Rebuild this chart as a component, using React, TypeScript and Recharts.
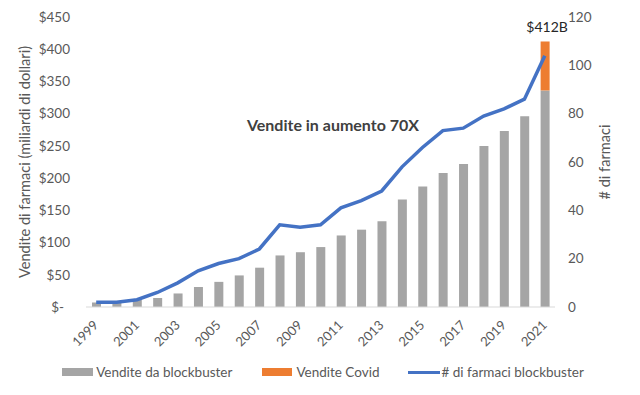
import {
  ComposedChart,
  Bar,
  Line,
  XAxis,
  YAxis,
  Legend,
  Label,
  LabelList,
} from "recharts"

// years on the category axis
const years = [
  "1999", "2000", "2001", "2002", "2003", "2004", "2005", "2006", "2007", "2008", "2009", "2010",
  "2011", "2012", "2013", "2014", "2015", "2016", "2017", "2018", "2019", "2020", "2021",
]

// blockbuster sales, billions of dollars
const blockbusterSales = [7, 8, 11, 14, 21, 31, 39, 49, 61, 80, 85, 93, 111, 120, 133, 167, 187, 208, 222, 250, 273, 296, 336]

// covid sales, billions of dollars (2021 only)
const covidSales = [0, 0, 0, 0, 0, 0, 0, 0, 0, 0, 0, 0, 0, 0, 0, 0, 0, 0, 0, 0, 0, 0, 76]

// number of blockbuster drugs
const drugCount = [2, 2, 3, 6, 10, 15, 18, 20, 24, 34, 33, 34, 41, 44, 48, 58, 66, 73, 74, 79, 82, 86, 104]

const salesTicks = [0, 50, 100, 150, 200, 250, 300, 350, 400, 450]
const countTicks = [0, 20, 40, 60, 80, 100, 120]

const data = years.map((year, i) => ({
  year,
  blockbuster: blockbusterSales[i],
  covid: covidSales[i],
  total: blockbusterSales[i] + covidSales[i],
  drugs: drugCount[i],
}))

const FONT = "Lato, 'Open Sans', sans-serif"
const GREY_TEXT = "#595959"

function YearTick(props: any) {
  const { x, y, payload } = props
  return (
    <g transform={`translate(${x + 3},${y + 19})`}>
      <text x={0} y={0} textAnchor="end" fill={GREY_TEXT} fontSize={13} fontFamily={FONT} transform="rotate(-45)">
        {payload.value}
      </text>
    </g>
  )
}

function SalesTick(props: any) {
  const { x, y, payload } = props
  const zero = payload.value === 0
  return (
    <text x={zero ? x - 6 : x} y={y} dy="0.355em" textAnchor="end" fill={GREY_TEXT} fontSize={13.5} fontFamily={FONT}>
      {zero ? "$-" : `$${payload.value}`}
    </text>
  )
}

// only the covid year gets the total label on top of the stack
function TotalLabel(props: any) {
  const { x, y, width, value } = props
  const i = covidSales.findIndex((v) => v > 0)
  if (i < 0 || Number(value) !== blockbusterSales[i] + covidSales[i]) return null
  return (
    <text x={Number(x) + Number(width) / 2 + 2} y={Number(y) - 9} textAnchor="middle" fill="#262626" fontSize={14} fontFamily={FONT}>
      {`$${value}B`}
    </text>
  )
}

function ChartLegend() {
  const text = { color: GREY_TEXT, fontSize: 13.5, fontFamily: FONT, whiteSpace: "nowrap" as const }
  return (
    <div style={{ display: "flex", justifyContent: "center", alignItems: "center", height: 24, paddingLeft: 6 }}>
      <span style={{ width: 31, height: 8, background: "#A5A5A5", marginRight: 3 }} />
      <span style={text}>Vendite da blockbuster</span>
      <span style={{ width: 30, height: 8, background: "#ED7D31", marginLeft: 30, marginRight: 4 }} />
      <span style={text}>Vendite Covid</span>
      <span style={{ width: 32, height: 3, background: "#4472C4", marginLeft: 28, marginRight: 2 }} />
      <span style={text}># di farmaci blockbuster</span>
    </div>
  )
}

export default function App() {
  return (
    <div style={{ position: "absolute", left: 0, top: 0, width: 640, height: 395, background: "#fff" }}>
      <ComposedChart width={640} height={395} data={data} margin={{ top: 17, right: 0, bottom: 11, left: 0 }} barSize={9}>
        <XAxis
          dataKey="year"
          interval={1}
          height={53}
          tickLine={false}
          tickSize={0}
          tickMargin={0}
          stroke="#D9D9D9"
          tick={<YearTick />}
        />
        <YAxis
          yAxisId="sales"
          width={86}
          domain={[0, 450]}
          ticks={salesTicks}
          axisLine={false}
          tickLine={false}
          tickSize={0}
          tickMargin={16}
          tick={<SalesTick />}
        >
          <Label
            value="Vendite di farmaci (miliardi di dollari)"
            angle={-90}
            position="insideLeft"
            offset={25}
            style={{ textAnchor: "middle", fill: GREY_TEXT, fontSize: 14.6, fontFamily: FONT }}
          />
        </YAxis>
        <YAxis
          yAxisId="count"
          orientation="right"
          width={85}
          domain={[0, 120]}
          ticks={countTicks}
          axisLine={false}
          tickLine={false}
          tickSize={0}
          tickMargin={13}
          tick={{ fill: GREY_TEXT, fontSize: 13.5, fontFamily: FONT }}
        >
          <Label
            value="# di farmaci"
            angle={-90}
            position="insideRight"
            offset={35}
            style={{ textAnchor: "middle", fill: GREY_TEXT, fontSize: 14.6, fontFamily: FONT }}
          />
        </YAxis>
        <Legend verticalAlign="bottom" content={<ChartLegend />} />
        <Bar yAxisId="sales" dataKey="blockbuster" stackId="sales" fill="#A5A5A5" name="Vendite da blockbuster" isAnimationActive={false} />
        <Bar yAxisId="sales" dataKey="covid" stackId="sales" fill="#ED7D31" name="Vendite Covid" isAnimationActive={false}>
          <LabelList dataKey="total" content={<TotalLabel />} />
        </Bar>
        <Line
          yAxisId="count"
          type="linear"
          dataKey="drugs"
          stroke="#4472C4"
          strokeWidth={3.5}
          dot={false}
          name="# di farmaci blockbuster"
          isAnimationActive={false}
        />
        <text x={333} y={131} textAnchor="middle" fill="#404040" fontSize={16} fontWeight="bold" fontFamily={FONT}>
          Vendite in aumento 70X
        </text>
      </ComposedChart>
    </div>
  )
}
